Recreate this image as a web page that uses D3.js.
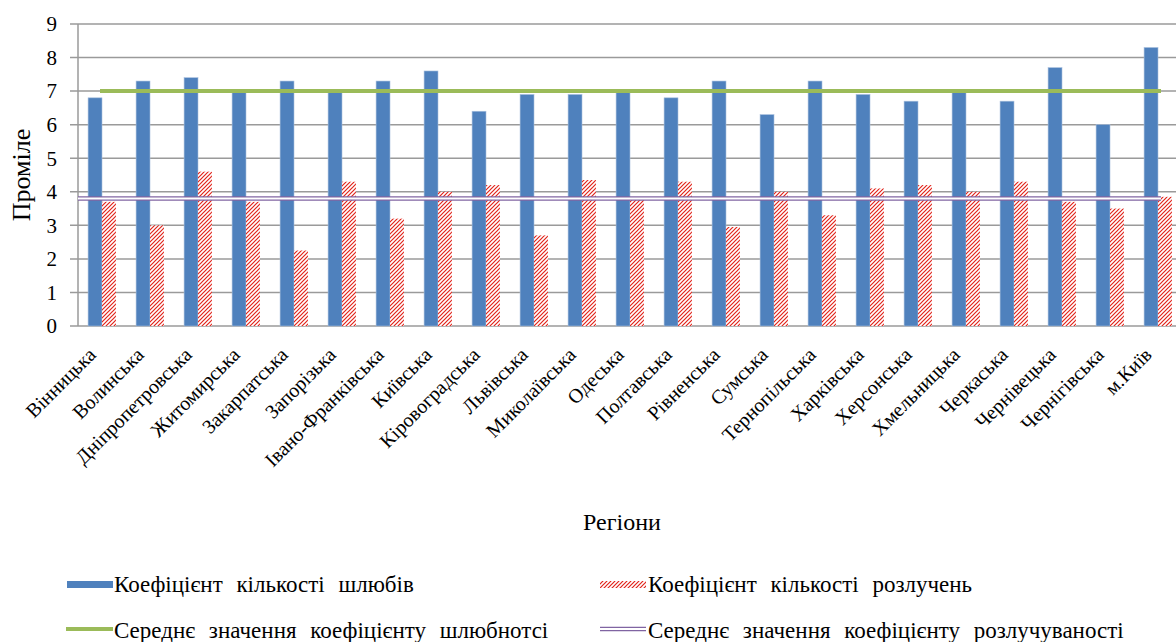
<!DOCTYPE html>
<html><head><meta charset="utf-8">
<script src="https://cdn.jsdelivr.net/npm/d3@7"></script>
<style>body{margin:0;background:#fff}svg{display:block}</style>
</head><body><svg id="c" width="1176" height="642" font-family="'Liberation Serif', 'Times New Roman', 'DejaVu Serif', serif"></svg>
<script>
const categories = ["Вінницька","Волинська","Дніпропетровська","Житомирська","Закарпатська","Запорізька","Івано-Франківська","Київська","Кіровоградська","Львівська","Миколаївська","Одеська","Полтавська","Рівненська","Сумська","Тернопільська","Харківська","Херсонська","Хмельницька","Черкаська","Чернівецька","Чернігівська","м.Київ"];
const marriages = [6.8,7.3,7.4,7.0,7.3,7.0,7.3,7.6,6.4,6.9,6.9,7.0,6.8,7.3,6.3,7.3,6.9,6.7,7.0,6.7,7.7,6.0,8.3];
const divorces = [3.7,3.0,4.6,3.7,2.25,4.3,3.2,4.0,4.2,2.7,4.35,3.8,4.3,2.95,4.0,3.3,4.1,4.2,4.0,4.3,3.7,3.5,3.85];
const avgMarriage = 7.0;
const avgDivorce = 3.8;
const yTicks = [0,1,2,3,4,5,6,7,8,9];
const seriesNames = ["Коефіцієнт кількості шлюбів","Коефіцієнт кількості розлучень","Середнє значення коефіцієнту шлюбнотсі","Середнє значення коефіцієнту розлучуваності"];
const yTitle = "Проміле";
const xTitle = "Регіони";

(function(){
const FF = "'Liberation Serif', 'Times New Roman', 'DejaVu Serif', serif";
const svg = d3.select("#c");
const L = 78, R = 1182, T = 24, B = 326;
const x = d3.scaleBand().domain(categories).range([L, R]).paddingInner(0).paddingOuter(0);
const y = d3.scaleLinear().domain([0, 9]).range([B, T]);
const bw = x.bandwidth();
const barW = bw * 0.29;

const defs = svg.append("defs");
const pat = defs.append("pattern").attr("id","hatch").attr("patternUnits","userSpaceOnUse")
  .attr("width",4).attr("height",4);
pat.append("rect").attr("width",4).attr("height",4).attr("fill","#fff");
pat.append("path").attr("d","M-1,5 L5,-1 M-1,1 L1,-1 M3,5 L5,3").attr("stroke","#e2231a").attr("stroke-width",1.2);

svg.append("g").selectAll("line").data(yTicks).join("line")
  .attr("x1", L - 8).attr("x2", 1176).attr("y1", d => y(d)).attr("y2", d => y(d))
  .attr("stroke", "#9a9a9a").attr("stroke-width", 1.5);
svg.append("line").attr("x1", L).attr("x2", L).attr("y1", y(9)).attr("y2", y(0))
  .attr("stroke", "#9a9a9a").attr("stroke-width", 1.5);

svg.append("g").selectAll("text").data(yTicks).join("text")
  .attr("x", 57).attr("y", d => y(d)).attr("dy", "0.35em").attr("text-anchor", "end")
  .style("font-family", FF).style("font-size", "21px").text(d => d);

svg.append("g").selectAll("rect").data(marriages).join("rect")
  .attr("x", (d, i) => x(categories[i]) + bw / 2 - barW)
  .attr("y", d => y(d)).attr("width", barW).attr("height", d => y(0) - y(d))
  .attr("fill", "#4f81bd").attr("stroke", "#a9c0de").attr("stroke-width", 0.6);
svg.append("g").selectAll("rect").data(divorces).join("rect")
  .attr("x", (d, i) => x(categories[i]) + bw / 2)
  .attr("y", d => y(d)).attr("width", barW).attr("height", d => y(0) - y(d))
  .attr("fill", "url(#hatch)");

const cx = c => x(c) + bw / 2;
const lastC = cx(categories[categories.length - 1]) + 3;
svg.append("line").attr("x1", cx(categories[0]) - 2).attr("x2", lastC)
  .attr("y1", y(avgMarriage)).attr("y2", y(avgMarriage))
  .attr("stroke", "#9bbb59").attr("stroke-width", 4);
const pl = svg.append("g");
pl.append("line").attr("x1", L).attr("x2", lastC)
  .attr("y1", y(avgDivorce)).attr("y2", y(avgDivorce))
  .attr("stroke", "#8064a2").attr("stroke-width", 4.5);
pl.append("line").attr("x1", L).attr("x2", lastC)
  .attr("y1", y(avgDivorce)).attr("y2", y(avgDivorce))
  .attr("stroke", "#ffffff").attr("stroke-width", 2);

svg.append("g").selectAll("text").data(categories).join("text")
  .attr("transform", c => `translate(${cx(c) - 5},${y(0) + 30}) rotate(-45)`)
  .attr("text-anchor", "end").style("font-family", FF).style("font-size", "20px").text(c => c);

svg.append("text").attr("transform", `translate(30,175) rotate(-90)`).attr("text-anchor", "middle")
  .style("font-family", FF).style("font-size", "26px").text(yTitle);
svg.append("text").attr("x", 622).attr("y", 530).attr("text-anchor", "middle")
  .style("font-family", FF).style("font-size", "24px").text(xTitle);

const lg = svg.append("g");
lg.append("rect").attr("x", 67).attr("y", 581).attr("width", 46).attr("height", 7).attr("fill", "#4f81bd");
lg.append("rect").attr("x", 600).attr("y", 581).attr("width", 46).attr("height", 7).attr("fill", "url(#hatch)");
lg.append("line").attr("x1", 66).attr("x2", 113).attr("y1", 629).attr("y2", 629).attr("stroke", "#9bbb59").attr("stroke-width", 4);
lg.append("line").attr("x1", 600).attr("x2", 646).attr("y1", 629).attr("y2", 629).attr("stroke", "#8064a2").attr("stroke-width", 4.5);
lg.append("line").attr("x1", 600).attr("x2", 646).attr("y1", 629).attr("y2", 629).attr("stroke", "#fff").attr("stroke-width", 2);
const lpos = [[114,592],[648,592],[114,638],[648,638]];
lg.selectAll("text.l").data(seriesNames).join("text").attr("class","l")
  .attr("x", (d, i) => lpos[i][0]).attr("y", (d, i) => lpos[i][1])
  .style("font-family", FF).style("font-size", "23px").style("word-spacing", "8px").text(d => d);
})();
</script></body></html>
